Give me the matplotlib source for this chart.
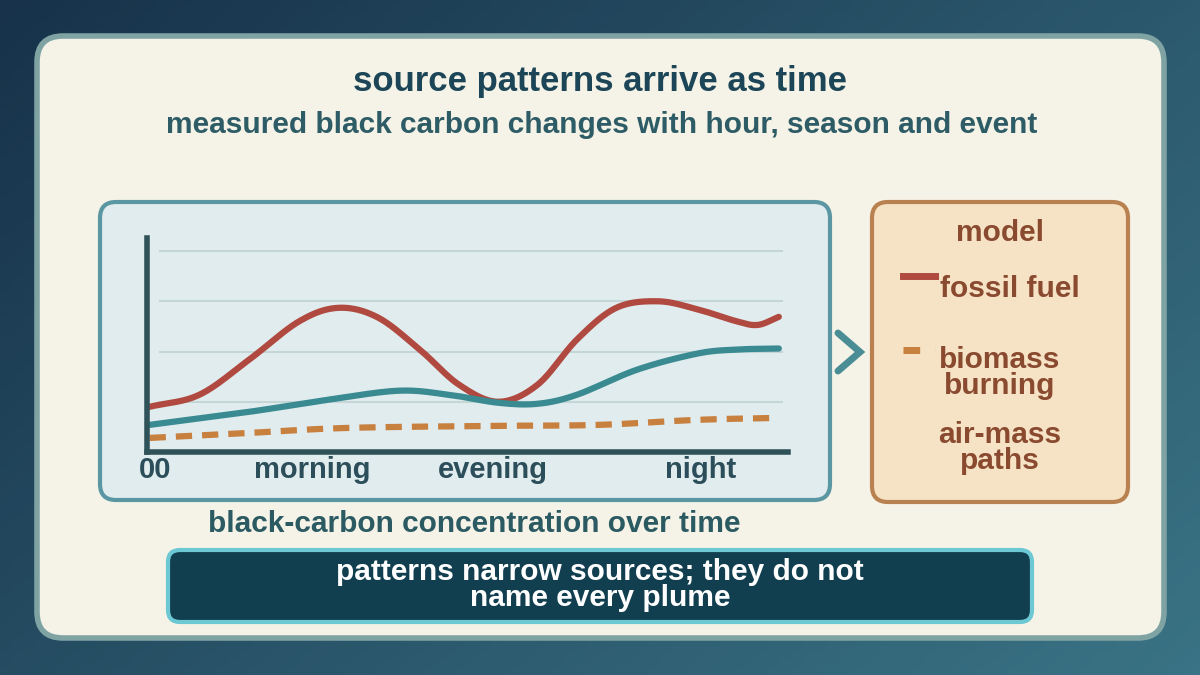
import numpy as np
import matplotlib.pyplot as plt
from matplotlib.patches import FancyBboxPatch

plt.rcParams['font.family'] = ['Liberation Sans', 'DejaVu Sans']

# hour of day vs black-carbon level (arbitrary units)
fossil_hours = [0, 1.9, 3.8, 5.7, 7.2, 8.7, 10.3, 11.8, 13.3, 14.8, 16.3, 17.8, 19.4, 20.9, 22.4, 23.2, 24]
fossil_vals = [0.9, 1.14, 1.84, 2.6, 2.87, 2.68, 2.04, 1.34, 1.0, 1.34, 2.24, 2.87, 3.0, 2.84, 2.6, 2.53, 2.69]
total_hours = [0, 3.8, 6.8, 9.5, 11.4, 13.3, 14.8, 16.3, 18.6, 20.9, 22.4, 24]
total_vals = [0.54, 0.8, 1.04, 1.22, 1.14, 0.98, 0.96, 1.14, 1.64, 1.96, 2.04, 2.06]
biomass_hours = [0, 3.8, 7.6, 13.3, 17.1, 20.9, 24]
biomass_vals = [0.28, 0.38, 0.48, 0.52, 0.54, 0.64, 0.68]
tick_pos = [0.2, 6.2, 13.1, 21.0]
tick_labels = ["00", "morning", "evening", "night"]


def smooth(xs, ys, n=20):
    # Catmull-Rom rendering through the given points
    x = np.array(xs, float); y = np.array(ys, float)
    px = np.concatenate([[2 * x[0] - x[1]], x, [2 * x[-1] - x[-2]]])
    py = np.concatenate([[2 * y[0] - y[1]], y, [2 * y[-1] - y[-2]]])
    ox, oy = [], []
    t = np.linspace(0, 1, n, endpoint=False)
    for i in range(1, len(px) - 2):
        for p, o in ((px, ox), (py, oy)):
            p0, p1, p2, p3 = p[i - 1], p[i], p[i + 1], p[i + 2]
            o.extend(0.5 * (2 * p1 + (-p0 + p2) * t + (2 * p0 - 5 * p1 + 4 * p2 - p3) * t ** 2
                            + (-p0 + 3 * p1 - 3 * p2 + p3) * t ** 3))
    ox.append(x[-1]); oy.append(y[-1])
    return ox, oy


fig = plt.figure(figsize=(12, 6.75), dpi=100)
bg = fig.add_axes([0, 0, 1, 1])
bg.set_xlim(0, 1200)
bg.set_ylim(675, 0)
bg.axis('off')

# background gradient
gx, gy = np.meshgrid(np.linspace(0, 1, 200), np.linspace(0, 1, 120))
grad = (gx * 0.6 + gy * 0.4)
bg.imshow(grad, extent=[0, 1200, 675, 0], cmap=plt.matplotlib.colors.LinearSegmentedColormap.from_list(
    'g', ['#17324a', '#3a7385']), aspect='auto', zorder=0)


def box(x0, y0, x1, y1, fc, ec, lw, r=18):
    bg.add_patch(FancyBboxPatch((x0, y0), x1 - x0, y1 - y0,
                                boxstyle=f"round,pad=0,rounding_size={r}",
                                fc=fc, ec=ec, lw=lw, zorder=1))


box(37, 36, 1164, 638, '#f5f3e7', '#7fa3a3', 4, 26)
bg.text(600, 82, "source patterns arrive as time", ha='center', va='center',
        fontsize=25, fontweight='bold', color='#1c4657')
bg.text(602, 125, "measured black carbon changes with hour, season and event", ha='center',
        va='center', fontsize=21.5, fontweight='bold', color='#2e5c66')

box(100, 202, 830, 500, '#e1ecee', '#5a97a2', 3, 16)
box(872, 202, 1128, 502, '#f6e3c5', '#b98150', 3, 16)
box(168, 550, 1032, 622, '#123f4f', '#6cc8d2', 3, 12)

bg.text(474, 524, "black-carbon concentration over time", ha='center', va='center',
        fontsize=21.5, fontweight='bold', color='#2b5a62')
bg.text(600, 585, "patterns narrow sources; they do not\nname every plume", ha='center',
        va='center', fontsize=21.5, fontweight='bold', color='white', linespacing=0.9)

# arrow chevron
bg.plot([838, 860, 838], [333, 352, 371], color='#4a8d94', lw=5, solid_capstyle='round',
        solid_joinstyle='miter', zorder=2)

# legend panel
brown = '#8a4a30'
fs = 21.5
bg.text(1000, 233, "model", ha='center', va='center', fontsize=fs, fontweight='bold', color=brown)
bg.plot([903, 935], [276, 276], color='#b04a40', lw=5, zorder=2)
bg.text(1010, 289, "fossil fuel", ha='center', va='center', fontsize=fs, fontweight='bold', color=brown)
bg.plot([903, 935], [350, 350], color='#c8803f', lw=5, ls=(0, (2.4, 2.2)), zorder=2)
bg.text(1000, 373, "biomass\nburning", ha='center', va='center', fontsize=fs, fontweight='bold',
        color=brown, linespacing=0.9)
bg.text(1000, 448, "air-mass\npaths", ha='center', va='center', fontsize=fs, fontweight='bold',
        color=brown, linespacing=0.9)

# chart axes: x 147..788 px, y 452..238 px
ax = fig.add_axes([147 / 1200, 1 - 452 / 675, (788 - 147) / 1200, (452 - 238) / 675])
ax.set_facecolor('none')
ax.set_xlim(-0.1, 24.35)
ax.set_ylim(0, 4.26)
for v in [1, 2, 3, 4]:
    ax.axhline(v, xmin=0.02, xmax=0.99, color='#c5d6d6', lw=1.5, zorder=0)
ax.plot(*smooth(fossil_hours, fossil_vals), color='#b04a40', lw=4.5, solid_capstyle='round')
ax.plot(*smooth(total_hours, total_vals), color='#3a8a92', lw=4.5, solid_capstyle='round')
ax.plot(*smooth(biomass_hours, biomass_vals), color='#c8803f', lw=4.5, ls=(0, (2.6, 1.6)))
for s in ['top', 'right']:
    ax.spines[s].set_visible(False)
for s in ['left', 'bottom']:
    ax.spines[s].set_color('#2f5258')
    ax.spines[s].set_linewidth(4)
ax.set_yticks([])
ax.set_xticks(tick_pos)
ax.set_xticklabels(tick_labels, fontsize=21, fontweight='bold', color='#2b4e5a')
ax.tick_params(axis='x', length=0, pad=3)

fig.savefig('out.png', dpi=100)
